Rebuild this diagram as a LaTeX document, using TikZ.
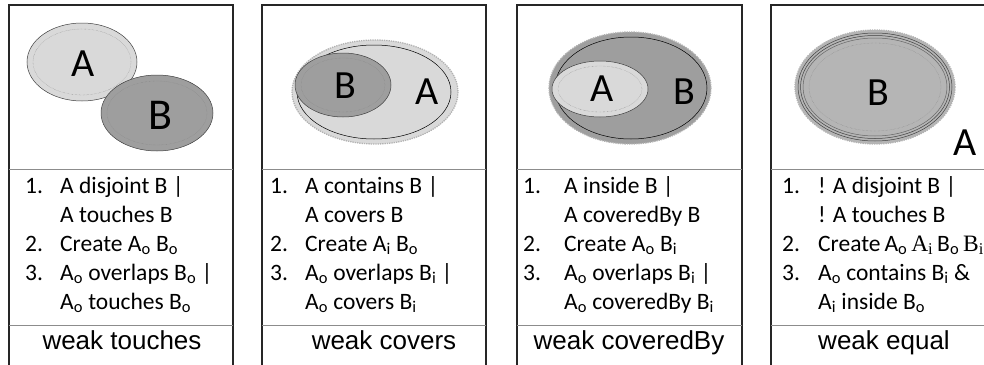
\documentclass[tikz,border=0pt]{standalone}
\usepackage{fontspec}
\setmainfont{Carlito}
\newfontfamily\arialfont{Liberation Sans}
\newfontfamily\cambriafont{Liberation Serif}
\newcommand{\Ix}[2]{#1\textsubscript{#2}}       % set name with subscript
\definecolor{lightset}{gray}{0.85}
\definecolor{midset}{gray}{0.71}
\definecolor{darkset}{gray}{0.62}

\begin{document}
\begin{tikzpicture}[x=1pt,y=-1pt,
    frame/.style={draw=black!85,line width=1.1pt},
    divider/.style={draw=black!45,line width=0.9pt},
    setlabel/.style={font=\fontsize{40}{44}\selectfont,inner sep=0pt},
    steptext/.style={font=\fontsize{23.5}{29}\selectfont,anchor=base west,inner sep=0pt},
    caption/.style={font=\arialfont\fontsize{26}{30}\selectfont,anchor=base,inner sep=0pt},
    halo/.style={draw=black!30,densely dotted,line width=1.3pt},
    rim/.style={draw=black!75,line width=0.5pt},
    innerrim/.style={draw=black!50,densely dotted,line width=0.35pt}]
        \useasboundingbox (0,0) rectangle (984,364);

        \def\ytop{5}                                % top of the frames
        \def\ymid{169}                              % picture / steps divider
        \def\ylow{325}                              % steps / caption divider
        \def\ybot{380}                              % frames run off the page

        % Frames and dividers
        \draw[frame] (9,\ytop) rectangle (233,\ybot);
        \draw[frame] (262,\ytop) rectangle (486,\ybot);
        \draw[frame] (517,\ytop) rectangle (742,\ybot);
        \draw[frame] (771,\ytop) rectangle (996,\ybot);
        \draw[divider] (9,\ymid) -- (233,\ymid) (9,\ylow) -- (233,\ylow);
        \draw[divider] (262,\ymid) -- (486,\ymid) (262,\ylow) -- (486,\ylow);
        \draw[divider] (517,\ymid) -- (742,\ymid) (517,\ylow) -- (742,\ylow);
        \draw[divider] (771,\ymid) -- (996,\ymid) (771,\ylow) -- (996,\ylow);

        % Panel 1: weak touches
        \fill[lightset] (82,62) ellipse (55 and 39);
        \draw[rim] (82,62) ellipse (55 and 39);
        \draw[innerrim] (82,62) ellipse (49 and 33);
        \fill[darkset] (157,113) ellipse (56 and 38);
        \draw[rim] (157,113) ellipse (56 and 38);
        \draw[innerrim] (157,113) ellipse (50 and 32);
        \node[setlabel] (labA1) at (83,64) {A};
        \node[setlabel,font=\fontsize{44}{48}\selectfont] (labB1) at (160,115) {B};

        % Panel 2: weak covers
        \fill[lightset] (375,92) ellipse (83 and 52);
        \draw[halo] (375,92) ellipse (83 and 52);
        \draw[rim,draw=black] (374,92) ellipse (77 and 47);
        \fill[darkset] (343,85) ellipse (48 and 32);
        \draw[rim] (343,85) ellipse (48 and 32);
        \draw[innerrim] (343,85) ellipse (42 and 27);
        \node[setlabel] (labB2) at (345,86) {B};
        \node[setlabel] (labA2) at (427,92) {A};

        % Panel 3: weak coveredBy
        \fill[darkset] (630,88) ellipse (81 and 56);
        \draw[halo] (630,88) ellipse (81 and 56);
        \draw[rim,draw=black] (631,88) ellipse (76 and 51);
        \fill[lightset] (600,89) ellipse (48 and 28);
        \draw[rim] (600,89) ellipse (48 and 28);
        \draw[innerrim] (600,89) ellipse (42 and 23);
        \node[setlabel] (labA3) at (602,89) {A};
        \node[setlabel] (labB3) at (684,92) {B};

        % Panel 4: weak equal
        \fill[midset] (875,87) ellipse (80 and 57);
        \draw[halo] (875,87) ellipse (80 and 57);
        \draw[rim] (875,87) ellipse (77 and 54);
        \draw[rim] (875,87) ellipse (74.5 and 51.5);
        \draw[rim,draw=black!60] (875,87) ellipse (72 and 49);
        \draw[innerrim] (875,87) ellipse (66 and 44);
        \node[setlabel] (labB4) at (878,93) {B};
        \node[setlabel] (labA4) at (965,143) {A};

        % Steps, panel 1
        \node[steptext] (n11) at (25,193) {1.};
        \node[steptext] (s11) at (60,193) {A disjoint B |};
        \node[steptext] (s12) at (60,222) {A touches B};
        \node[steptext] (n12) at (25,251) {2.};
        \node[steptext] (s13) at (60,251) {Create \Ix{A}{o} \Ix{B}{o}};
        \node[steptext] (n13) at (25,280) {3.};
        \node[steptext] (s14) at (60,280) {\Ix{A}{o} overlaps \Ix{B}{o} |};
        \node[steptext] (s15) at (60,309) {\Ix{A}{o} touches \Ix{B}{o}};

        % Steps, panel 2
        \node[steptext] (n21) at (270,193) {1.};
        \node[steptext] (s21) at (305,193) {A contains B |};
        \node[steptext] (s22) at (305,222) {A covers B};
        \node[steptext] (n22) at (270,251) {2.};
        \node[steptext] (s23) at (305,251) {Create \Ix{A}{i} \Ix{B}{o}};
        \node[steptext] (n23) at (270,280) {3.};
        \node[steptext] (s24) at (305,280) {\Ix{A}{o} overlaps \Ix{B}{i} |};
        \node[steptext] (s25) at (305,309) {\Ix{A}{o} covers \Ix{B}{i}};

        % Steps, panel 3
        \node[steptext] (n31) at (523,193) {1.};
        \node[steptext] (s31) at (564,193) {A inside B |};
        \node[steptext] (s32) at (564,222) {A coveredBy B};
        \node[steptext] (n32) at (523,251) {2.};
        \node[steptext] (s33) at (564,251) {Create \Ix{A}{o} \Ix{B}{i}};
        \node[steptext] (n33) at (523,280) {3.};
        \node[steptext] (s34) at (564,280) {\Ix{A}{o} overlaps \Ix{B}{i} |};
        \node[steptext] (s35) at (564,309) {\Ix{A}{o} coveredBy \Ix{B}{i}};

        % Steps, panel 4
        \node[steptext] (n41) at (782,193) {1.};
        \node[steptext] (s41) at (818,193) {! A disjoint B |};
        \node[steptext] (s42) at (818,222) {! A touches B};
        \node[steptext] (n42) at (782,251) {2.};
        \node[steptext] (s43) at (818,251) {Create\,\Ix{A}{o}\,{\cambriafont\Ix{A}{i}}\,\Ix{B}{o}\,{\cambriafont\Ix{B}{i}}};
        \node[steptext] (n43) at (782,280) {3.};
        \node[steptext] (s44) at (818,280) {\Ix{A}{o} contains \Ix{B}{i} \&};
        \node[steptext] (s45) at (818,309) {\Ix{A}{i} inside \Ix{B}{o}};

        % Captions
        \node[caption] (cap1) at (122,349) {weak touches};
        \node[caption] (cap2) at (384,349) {weak covers};
        \node[caption] (cap3) at (629,349) {weak coveredBy};
        \node[caption] (cap4) at (884,349) {weak equal};
\end{tikzpicture}
\end{document}
